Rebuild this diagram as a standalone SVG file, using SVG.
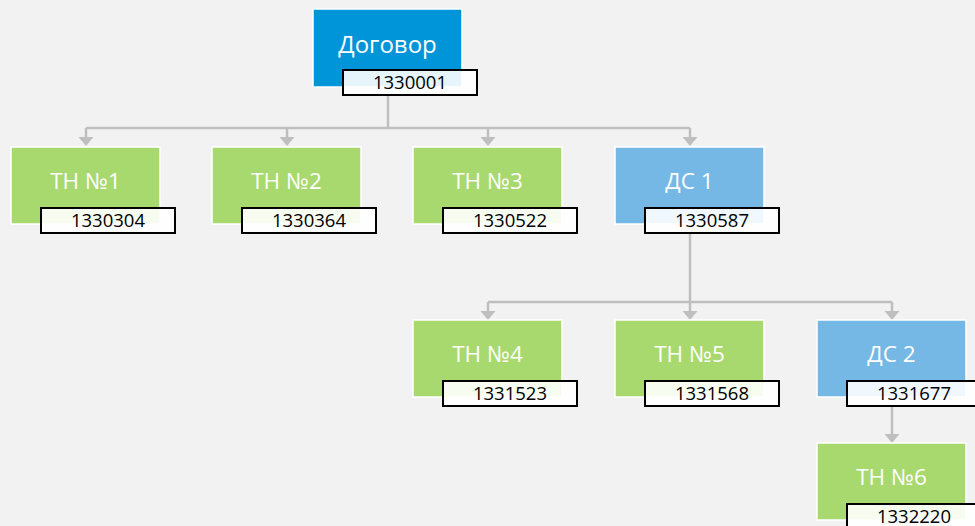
<svg xmlns="http://www.w3.org/2000/svg" width="975" height="526" viewBox="0 0 975 526">
<style>
.bg{fill:#f2f2f2}
.node{stroke:#ffffff;stroke-width:1.5}
.green{fill:#a8d96f}
.blue{fill:#75b7e5}
.main{fill:#0095d8}
.lbl{fill:#ffffff;fill-opacity:0.9;stroke:#000000;stroke-width:2}
.t{font-family:"Open Sans","Noto Sans",sans-serif;font-size:22.5px;fill:#ffffff;text-anchor:middle}
.tm{font-size:24px}
.n{font-family:"Open Sans","Noto Sans",sans-serif;font-size:18.5px;fill:#000000;text-anchor:middle}
.c{fill:none;stroke:#bfbfbf;stroke-width:2.5}
</style>
<defs>
<marker id="arr" markerUnits="userSpaceOnUse" markerWidth="9" markerHeight="15" refX="0" refY="7.5" orient="auto" viewBox="0 0 9 15" overflow="visible">
<path d="M0,0 L9,7.5 L0,15 z" fill="#bfbfbf"/>
</marker>
</defs>
<rect class="bg" x="0" y="0" width="975" height="526"/>
<g id="connectors">
<path class="c" d="M388 96 V128 M86 128 H690"/>
<path class="c" d="M86 128 V137" marker-end="url(#arr)"/>
<path class="c" d="M287 128 V137" marker-end="url(#arr)"/>
<path class="c" d="M488 128 V137" marker-end="url(#arr)"/>
<path class="c" d="M690 128 V137" marker-end="url(#arr)"/>
<path class="c" d="M690 234 V302 M488 302 H892"/>
<path class="c" d="M488 302 V311" marker-end="url(#arr)"/>
<path class="c" d="M690 302 V311" marker-end="url(#arr)"/>
<path class="c" d="M892 302 V311" marker-end="url(#arr)"/>
<path class="c" d="M892 407 V434" marker-end="url(#arr)"/>
</g>
<g id="node-dogovor">
<rect class="node main" x="313" y="9" width="149" height="78"/>
<text class="t tm" x="387.5" y="53">Договор</text>
<rect class="lbl" x="343" y="70" width="134" height="25"/>
<text class="n" x="410" y="89">1330001</text>
</g>
<g id="node-tn1">
<rect class="node green" x="11" y="147" width="149" height="77"/>
<text class="t" x="85.5" y="188.5">ТН №1</text>
<rect class="lbl" x="41" y="208" width="134" height="25"/>
<text class="n" x="108" y="226.5">1330304</text>
</g>
<g id="node-tn2">
<rect class="node green" x="212" y="147" width="149" height="77"/>
<text class="t" x="286.5" y="188.5">ТН №2</text>
<rect class="lbl" x="242" y="208" width="134" height="25"/>
<text class="n" x="309" y="226.5">1330364</text>
</g>
<g id="node-tn3">
<rect class="node green" x="413" y="147" width="149" height="77"/>
<text class="t" x="487.5" y="188.5">ТН №3</text>
<rect class="lbl" x="443" y="208" width="134" height="25"/>
<text class="n" x="510" y="226.5">1330522</text>
</g>
<g id="node-ds1">
<rect class="node blue" x="615" y="147" width="149" height="77"/>
<text class="t" x="689.5" y="188.5">ДС 1</text>
<rect class="lbl" x="645" y="208" width="134" height="25"/>
<text class="n" x="712" y="226.5">1330587</text>
</g>
<g id="node-tn4">
<rect class="node green" x="413" y="320" width="149" height="77"/>
<text class="t" x="487.5" y="362">ТН №4</text>
<rect class="lbl" x="443" y="381" width="134" height="25"/>
<text class="n" x="510" y="400">1331523</text>
</g>
<g id="node-tn5">
<rect class="node green" x="615" y="320" width="149" height="77"/>
<text class="t" x="689.5" y="362">ТН №5</text>
<rect class="lbl" x="645" y="381" width="134" height="25"/>
<text class="n" x="712" y="400">1331568</text>
</g>
<g id="node-ds2">
<rect class="node blue" x="817" y="320" width="149" height="77"/>
<text class="t" x="891.5" y="362">ДС 2</text>
<rect class="lbl" x="847" y="381" width="134" height="25"/>
<text class="n" x="914" y="400">1331677</text>
</g>
<g id="node-tn6">
<rect class="node green" x="817" y="443" width="149" height="77"/>
<text class="t" x="891.5" y="485">ТН №6</text>
<rect class="lbl" x="847" y="504" width="134" height="25"/>
<text class="n" x="914" y="522.5">1332220</text>
</g>
</svg>
